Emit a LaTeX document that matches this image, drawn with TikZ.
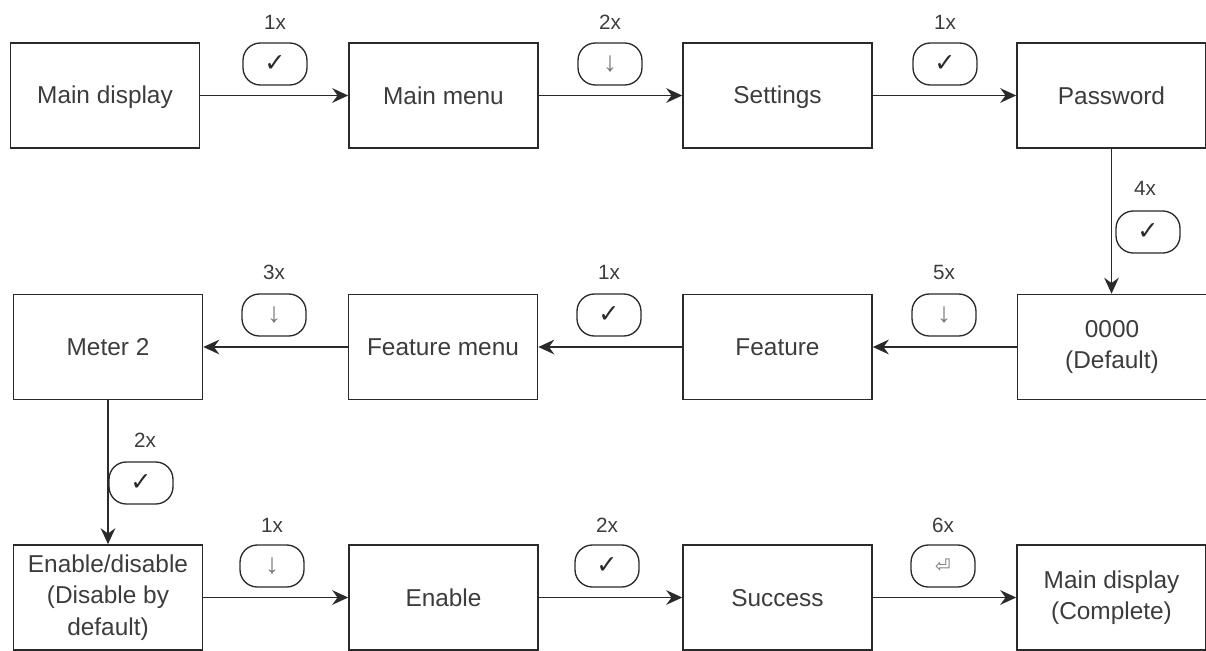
\documentclass[tikz,border=0pt]{standalone}
\usepackage{fontspec}
\setmainfont{Liberation Sans}
\newfontfamily\symfont{DejaVu Sans}
\usetikzlibrary{arrows.meta}
\definecolor{txt}{HTML}{3C3C3C}
\definecolor{edge}{HTML}{2A2A2A}
\definecolor{arrowgrey}{HTML}{777777}
\newcommand{\topstrut}{\rule[-3.1pt]{0pt}{19.1pt}}
\tikzset{
  box/.style={draw=edge, line width=1.2pt, minimum width=141.75pt, minimum height=78.75pt,
    inner sep=2pt, align=center, text=txt, font=\fontsize{18.3}{23.5}\selectfont,
    execute at begin node=\topstrut, execute at end node=\topstrut},
  btn/.style={draw=edge, line width=1pt, rounded corners=13pt, minimum width=48pt,
    minimum height=31.5pt, inner sep=0pt, text=black},
  lbl/.style={text=txt, font=\fontsize{15.5}{18}\selectfont, inner sep=0pt},
  flow/.style={draw=edge, line width=1.2pt, -{Stealth[length=12pt,width=11pt,inset=4pt]}},
  chk/.style={font=\symfont\fontsize{19}{20}\selectfont, text=edge},
  dwn/.style={font=\fontsize{21}{22}\selectfont, text=arrowgrey},
  ret/.style={font=\symfont\fontsize{14}{16}\selectfont, text=arrowgrey}
}
\begin{document}
\begin{tikzpicture}[x=0.75pt,y=-0.75pt]
\useasboundingbox (0,0) rectangle (1206,650);
% row 1
\node[box] (md)  at (105,95.5)  {Main display};
\node[box] (mm)  at (443.5,95.5) {Main menu};
\node[box] (st)  at (777.5,95.5) {Settings};
\node[box] (pw)  at (1111.5,95.5) {Password};
% row 2
\node[box] (m2)  at (108,347)  {Meter 2};
\node[box] (fm)  at (443,347)  {Feature menu};
\node[box] (ft)  at (777.5,347) {Feature};
\node[box] (df)  at (1112,347) {0000\\(Default)};
% row 3
\node[box] (ed)  at (108,597.5) {Enable/disable\\(Disable by\\default)};
\node[box] (en)  at (443.5,597.5) {Enable};
\node[box] (sc)  at (777.5,597.5) {Success};
\node[box] (mc)  at (1111.5,597.5) {Main display\\(Complete)};
% connectors
\draw[flow] (md) -- (mm);
\draw[flow] (mm) -- (st);
\draw[flow] (st) -- (pw);
\draw[flow] (pw.south) -- (pw.south |- df.north);
\draw[flow] (df) -- (ft);
\draw[flow] (ft) -- (fm);
\draw[flow] (fm) -- (m2);
\draw[flow] (m2.south) -- (m2.south |- ed.north);
\draw[flow] (ed) -- (en);
\draw[flow] (en) -- (sc);
\draw[flow] (sc) -- (mc);
% buttons and counts, row 1
\node[lbl] (l1) at (275,22) {1x};
\node[btn,chk] (b1) at (275,64) {✓};
\node[lbl] (l2) at (610,22) {2x};
\node[btn,dwn] (b2) at (610,64) {↓};
\node[lbl] (l3) at (945,22) {1x};
\node[btn,chk] (b3) at (945,64) {✓};
% vertical 1
\node[lbl] (l4) at (1145,188) {4x};
\node[btn,chk] (b4) at (1148,232) {✓};
% row 2
\node[lbl] (l5) at (274,272) {3x};
\node[btn,dwn] (b5) at (274,315) {↓};
\node[lbl] (l6) at (609,272) {1x};
\node[btn,chk] (b6) at (609,315) {✓};
\node[lbl] (l7) at (944,272) {5x};
\node[btn,dwn] (b7) at (944,315) {↓};
% vertical 2
\node[lbl] (l8) at (145,440) {2x};
\node[btn,chk] (b8) at (141,483) {✓};
% row 3
\node[lbl] (l9) at (272,525) {1x};
\node[btn,dwn] (b9) at (272,566) {↓};
\node[lbl] (l10) at (607,525) {2x};
\node[btn,chk] (b10) at (607,566) {✓};
\node[lbl] (l11) at (943,525) {6x};
\node[btn,ret] (b11) at (943,566) {⏎};
\end{tikzpicture}
\end{document}
